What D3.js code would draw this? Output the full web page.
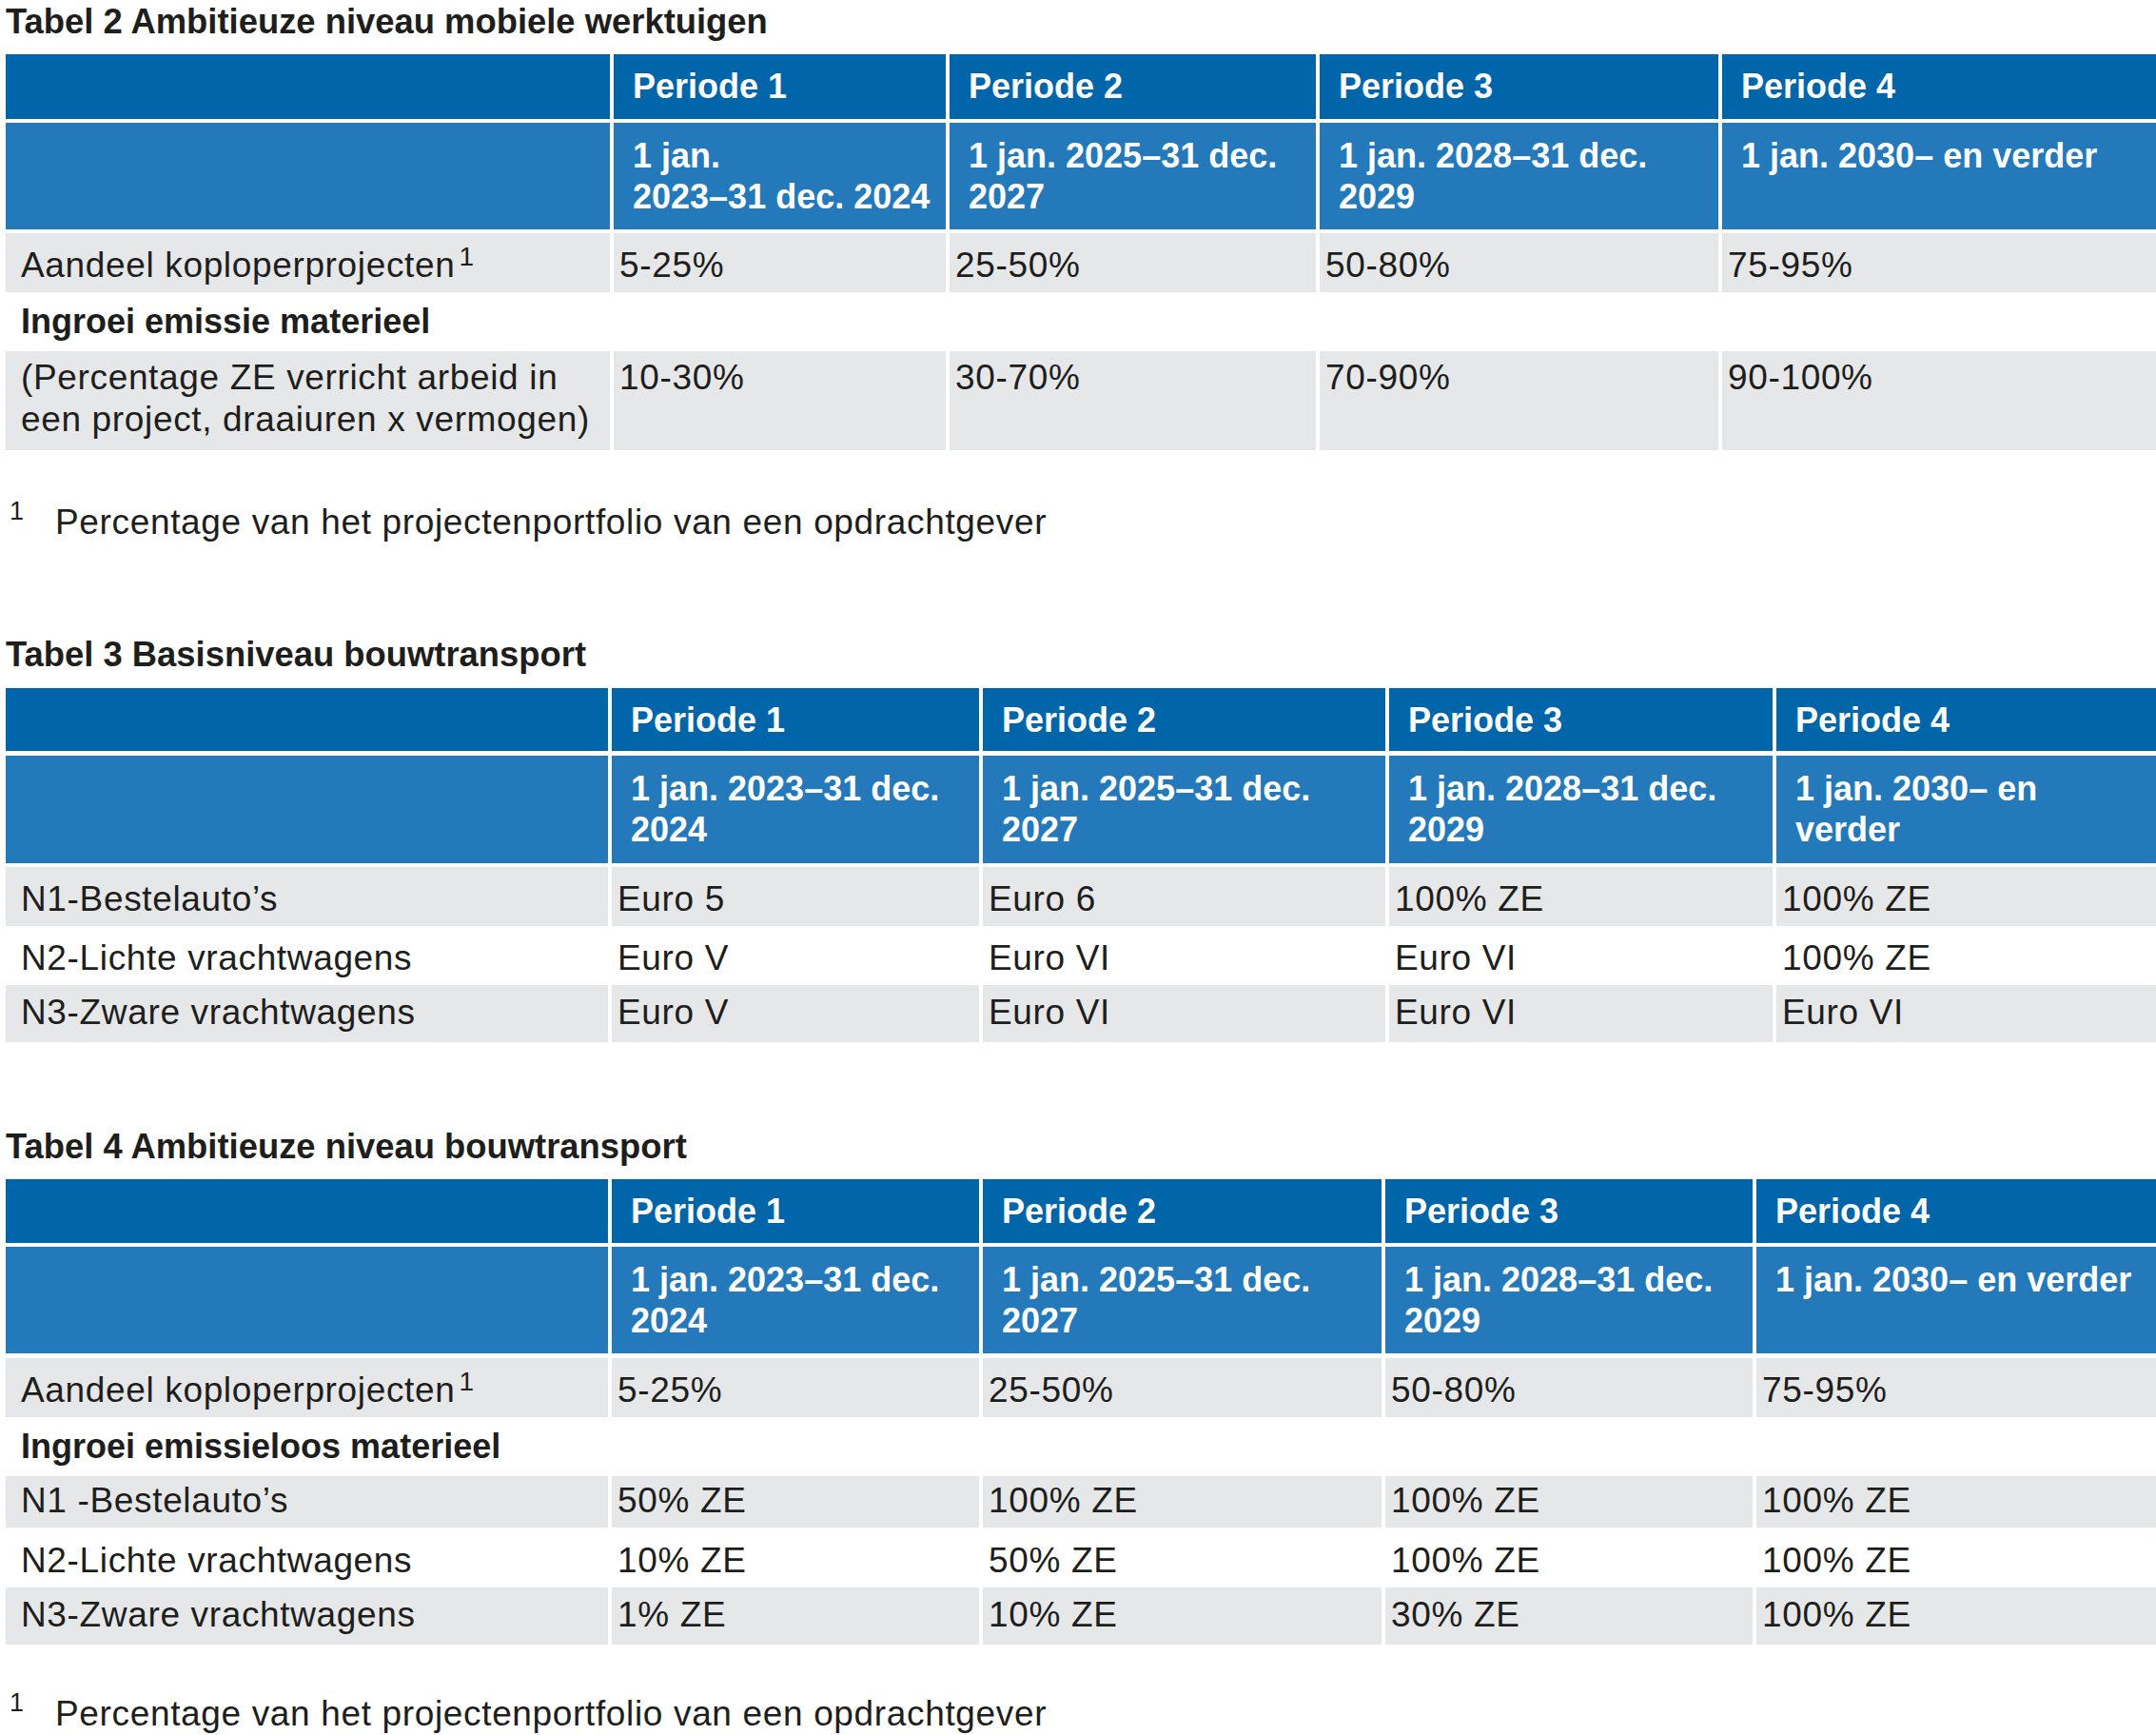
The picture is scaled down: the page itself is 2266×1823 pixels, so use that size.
<!DOCTYPE html>
<html>
<head>
<meta charset="utf-8">
<script src="https://cdn.jsdelivr.net/npm/d3@7"></script>
<style>
  body { margin: 0; background: #fff; }
  svg { display: block; }
  text { font-family: "Liberation Sans", Arial, sans-serif; }
</style>
</head>
<body>
<svg id="chart"></svg>
<script>
// column headers shared by all tables
var periods = ["Periode 1", "Periode 2", "Periode 3", "Periode 4"];

// Tabel 2
var t2Title = "Tabel 2 Ambitieuze niveau mobiele werktuigen";
var t2Dates = [["1 jan.", "2023–31 dec. 2024"], ["1 jan. 2025–31 dec.", "2027"], ["1 jan. 2028–31 dec.", "2029"], ["1 jan. 2030– en verder"]];
var t2Aandeel = ["5-25%", "25-50%", "50-80%", "75-95%"];
var t2Section = "Ingroei emissie materieel";
var t2IngroeiLabel = ["(Percentage ZE verricht arbeid in", "een project, draaiuren x vermogen)"];
var t2Ingroei = ["10-30%", "30-70%", "70-90%", "90-100%"];

// Tabel 3
var t3Title = "Tabel 3 Basisniveau bouwtransport";
var t3Dates = [["1 jan. 2023–31 dec.", "2024"], ["1 jan. 2025–31 dec.", "2027"], ["1 jan. 2028–31 dec.", "2029"], ["1 jan. 2030– en", "verder"]];
var t3Labels = ["N1-Bestelauto’s", "N2-Lichte vrachtwagens", "N3-Zware vrachtwagens"];
var t3Values = [
    ["Euro 5", "Euro 6", "100% ZE", "100% ZE"],
    ["Euro V", "Euro VI", "Euro VI", "100% ZE"],
    ["Euro V", "Euro VI", "Euro VI", "Euro VI"]
];

// Tabel 4
var t4Title = "Tabel 4 Ambitieuze niveau bouwtransport";
var t4Dates = [["1 jan. 2023–31 dec.", "2024"], ["1 jan. 2025–31 dec.", "2027"], ["1 jan. 2028–31 dec.", "2029"], ["1 jan. 2030– en verder"]];
var t4Aandeel = ["5-25%", "25-50%", "50-80%", "75-95%"];
var t4Section = "Ingroei emissieloos materieel";
var t4Labels = ["N1 -Bestelauto’s", "N2-Lichte vrachtwagens", "N3-Zware vrachtwagens"];
var t4Values = [
    ["50% ZE", "100% ZE", "100% ZE", "100% ZE"],
    ["10% ZE", "50% ZE", "100% ZE", "100% ZE"],
    ["1% ZE", "10% ZE", "30% ZE", "100% ZE"]
];

var aandeelLabel = "Aandeel koploperprojecten";
var footnote = "Percentage van het projectenportfolio van een opdrachtgever";

// ---- layout ----
var W = 2266, H = 1823, gap = 4;
var colors = {head1: "#0065a9", head2: "#2379b9", grey: "#e6e7e9", text: "#1e1e1c"};

var svg = d3.select("#chart").attr("width", W).attr("height", H);

// build row definitions for each table
function headRows(dates) {
    return [
        {kind: "head1", label: [], cells: periods.map(function(p) { return [p]; })},
        {kind: "head2", label: [], cells: dates}
    ];
}

var tables = [
    {
        title: t2Title, titleY: 35, footY: 561,
        cols: [6, 645, 998, 1387, 1810],
        rowTops: [57, 129, 245, 307, 369],
        rowHeights: [68, 112, 62, 62, 104],
        rows: headRows(t2Dates).concat([
            {kind: "body", fill: true, label: [aandeelLabel], sup: true, cells: t2Aandeel.map(function(v) { return [v]; })},
            {kind: "section", label: [t2Section], cells: []},
            {kind: "body", fill: true, multi: true, label: t2IngroeiLabel, cells: t2Ingroei.map(function(v) { return [v]; })}
        ])
    },
    {
        title: t3Title, titleY: 700,
        cols: [6, 643, 1033, 1460, 1867],
        rowTops: [723, 794, 911, 973, 1035],
        rowHeights: [66, 113, 62, 62, 60],
        rows: headRows(t3Dates).concat(t3Labels.map(function(l, i) {
            return {kind: "body", fill: i % 2 === 0, label: [l], cells: t3Values[i].map(function(v) { return [v]; })};
        }))
    },
    {
        title: t4Title, titleY: 1217, footY: 1813,
        cols: [6, 643, 1033, 1456, 1846],
        rowTops: [1239, 1310, 1427, 1489, 1551, 1605, 1668],
        rowHeights: [67, 112, 62, 62, 54, 63, 60],
        rows: headRows(t4Dates).concat([
            {kind: "body", fill: true, label: [aandeelLabel], sup: true, cells: t4Aandeel.map(function(v) { return [v]; })},
            {kind: "section", label: [t4Section], cells: []}
        ]).concat(t4Labels.map(function(l, i) {
            return {kind: "body", fill: i % 2 === 0, label: [l], cells: t4Values[i].map(function(v) { return [v]; })};
        }))
    }
];

function drawTable(t) {
    var g = svg.append("g");
    var nCols = t.cols.length;
    var x = d3.scaleOrdinal().domain(d3.range(nCols)).range(t.cols);
    var colW = function(i) {
        return (i < nCols - 1 ? t.cols[i + 1] - gap : W) - t.cols[i];
    };
    var y = d3.scaleOrdinal().domain(d3.range(t.rows.length)).range(t.rowTops);
    var h = d3.scaleOrdinal().domain(d3.range(t.rows.length)).range(t.rowHeights);

    // title
    g.append("text")
        .attr("x", 6).attr("y", t.titleY)
        .attr("font-size", 36.4).attr("font-weight", "bold")
        .attr("fill", colors.text)
        .text(t.title);

    t.rows.forEach(function(row, ri) {
        var top = y(ri), rh = h(ri);
        var isHead = row.kind === "head1" || row.kind === "head2";
        var fill = row.kind === "head1" ? colors.head1 : row.kind === "head2" ? colors.head2 : (row.fill ? colors.grey : null);

        // backgrounds, one per column
        if (fill) {
            g.selectAll(null)
                .data(d3.range(nCols))
                .enter().append("rect")
                .attr("x", function(c) { return x(c); })
                .attr("y", top)
                .attr("width", function(c) { return colW(c); })
                .attr("height", rh)
                .attr("fill", fill);
        }

        // baseline of first line
        var base;
        if (row.kind === "head1") base = top + 46;
        else if (row.kind === "head2") base = top + 47;
        else if (row.multi) base = top + 40;
        else if (row.kind === "section") base = top + 43;
        else if (rh >= 62) base = top + Math.min(47, rh / 2 + 15);
        else base = top + rh / 2 + 11;
        var lineH = isHead ? 43 : 44;

        var textStyle = function(sel, bold) {
            sel.attr("font-size", bold ? 36 : 37)
                .attr("font-weight", bold ? "bold" : "normal")
                .attr("letter-spacing", bold ? 0 : 0.65)
                .attr("fill", isHead ? "#fff" : colors.text);
        };

        // label column
        if (row.label.length) {
            var lt = g.append("text")
                .attr("x", x(0) + 16).attr("y", base)
                .call(textStyle, row.kind === "section");
            row.label.forEach(function(line, li) {
                lt.append("tspan").attr("x", x(0) + 16).attr("dy", li === 0 ? 0 : lineH).text(line);
            });
            if (row.sup) {
                lt.append("tspan").attr("dx", 4).attr("dy", -12)
                    .attr("font-size", 28).attr("letter-spacing", 0).text("1");
            }
        }

        // period cells
        row.cells.forEach(function(lines, ci) {
            var col = ci + 1;
            var tx = x(col) + (isHead ? 20 : 6);
            var ct = g.append("text")
                .attr("x", tx).attr("y", base)
                .call(textStyle, isHead);
            lines.forEach(function(line, li) {
                ct.append("tspan").attr("x", tx).attr("dy", li === 0 ? 0 : lineH).text(line);
            });
        });
    });

    // footnote
    if (t.footY) {
        g.append("text")
            .attr("x", 10).attr("y", t.footY - 15)
            .attr("font-size", 27).attr("fill", colors.text)
            .text("1");
        g.append("text")
            .attr("x", 58).attr("y", t.footY)
            .attr("font-size", 37).attr("letter-spacing", 0.65)
            .attr("fill", colors.text)
            .text(footnote);
    }
}

tables.forEach(drawTable);
</script>
</body>
</html>
